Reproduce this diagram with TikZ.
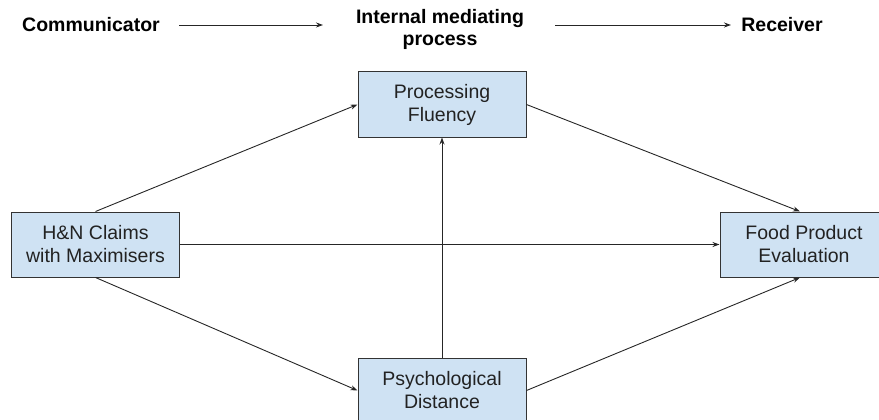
\documentclass[tikz,border=0pt]{standalone}
\usepackage{fontspec}
\setmainfont{Liberation Sans}
\usetikzlibrary{arrows.meta}
\definecolor{boxfill}{HTML}{CFE2F3}
\definecolor{boxline}{HTML}{333333}
\definecolor{txt}{HTML}{222222}
\tikzset{
  box/.style={draw=boxline, line width=1pt, fill=boxfill, minimum width=168pt, minimum height=65pt,
    align=center, inner sep=0pt, text=txt, font=\fontsize{19.5}{23}\selectfont},
  head/.style={font=\bfseries\fontsize{19.5}{22}\selectfont, align=center, inner sep=0pt, text=black},
  conn/.style={draw=black!85, line width=0.9pt, -{Stealth[length=7pt,width=5pt]}}
}
\begin{document}
\begin{tikzpicture}[x=1pt,y=-1pt]
\useasboundingbox (0,0) rectangle (879,420);
% header
\node[head, anchor=base] (comm) at (91,32) {Communicator};
\node[head] (imp) at (440,29) {Internal mediating\\process};
\node[head, anchor=base] (recv) at (782,32) {Receiver};
\coordinate (a1s) at (179,25);
\coordinate (a1e) at (323,25);
\coordinate (a2s) at (555,25);
\coordinate (a2e) at (731,25);
\draw[conn] (a1s) -- (a1e);
\draw[conn] (a2s) -- (a2e);
% boxes
\node[box] (hn) at (95.5,244.5) {H\&N Claims\\with Maximisers};
\node[box] (pf) at (442,104.5) {Processing\\Fluency};
\node[box] (pd) at (442,390.5) {Psychological\\Distance};
\node[box] (fpe) at (804,244.5) {Food Product\\Evaluation};
% connectors
\draw[conn] (hn.north) -- (pf.west);
\draw[conn] (hn.south) -- (pd.west);
\draw[conn] (hn.east) -- (fpe.west);
\draw[conn] (pd.north) -- (pf.south);
\draw[conn] (pf.east) -- ([xshift=-4pt]fpe.north);
\draw[conn] (pd.east) -- ([xshift=-4pt]fpe.south);
\end{tikzpicture}
\end{document}
